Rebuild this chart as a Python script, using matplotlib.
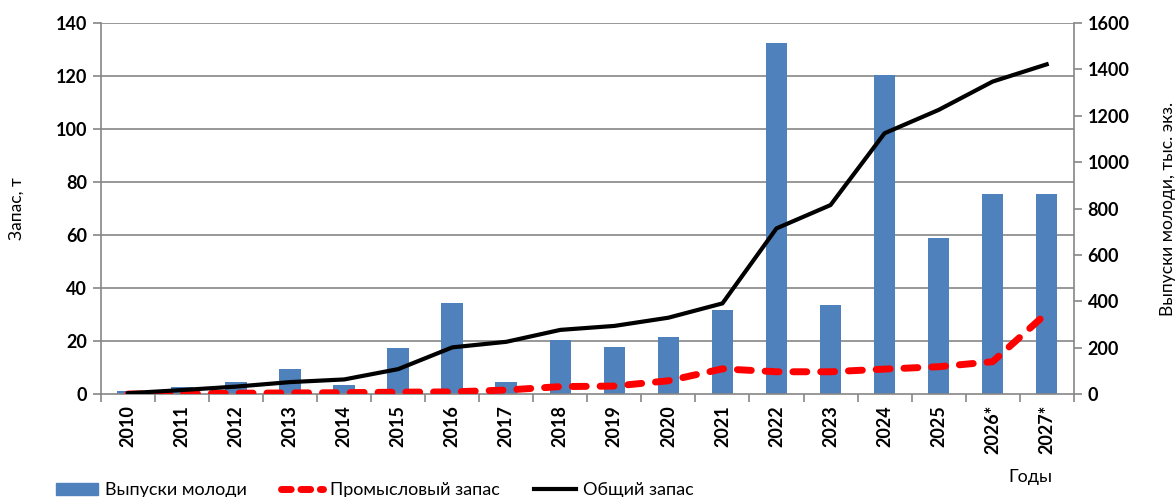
import numpy as np
import matplotlib
matplotlib.use("Agg")
import matplotlib.pyplot as plt
from matplotlib.lines import Line2D
from matplotlib.patches import Patch

plt.rcParams['font.family'] = ['Lato', 'DejaVu Sans']

# data
years = ['2010', '2011', '2012', '2013', '2014', '2015', '2016', '2017', '2018',
         '2019', '2020', '2021', '2022', '2023', '2024', '2025', '2026*', '2027*']
releases = [13, 32, 53, 109, 40, 198, 394, 53, 233, 203, 247, 362, 1515, 382,
            1377, 671, 862, 862]
commercial = [0.0, 0.1, 0.3, 0.4, 0.5, 0.7, 0.8, 1.5, 2.8, 3.0, 5.0, 9.5, 8.4,
              8.4, 9.4, 10.3, 12.2, 30.5]
total = [0.3, 1.5, 2.8, 4.5, 5.5, 9.4, 17.6, 19.7, 24.2, 25.7, 28.8, 34.2, 62.5,
         71.3, 98.4, 107.2, 117.9, 124.4]

left_ticks = np.arange(0, 141, 20)
right_ticks = np.arange(0, 1601, 200)

grey = '#868686'
bar_color = '#4F81BD'
red_dash = (0, (2.0, 2.0))

fig = plt.figure(figsize=(11.76, 4.97), dpi=100)
ax = fig.add_axes([0.0859, 0.2072, 0.8271, 0.7465])
x = np.arange(len(years))

# bars on the right-hand scale (drawn underneath)
for v in left_ticks[1:]:
    ax.axhline(v * 1600 / 140, color=grey, lw=1.2, zorder=0)
ax.bar(x, releases, width=0.4, color=bar_color, zorder=2)
ax.set_ylim(0, 1600)
ax.set_xlim(-0.5, len(years) - 0.5)

ax2 = ax.twinx()
ax2.plot(x, commercial, color='red', lw=5, ls=red_dash, dash_capstyle='round', zorder=3)
ax2.plot(x, total, color='black', lw=3, zorder=4)
ax2.set_ylim(0, 140)

# put the tonnes scale on the left, thousands on the right
ax.yaxis.tick_right()
ax.yaxis.set_label_position('right')
ax2.yaxis.tick_left()
ax2.yaxis.set_label_position('left')
ax.set_yticks(right_ticks)
ax2.set_yticks(left_ticks)

for a in (ax, ax2):
    for s in a.spines.values():
        s.set_visible(False)
    a.tick_params(axis='y', colors=grey, length=6, width=1.2, labelsize=13,
                  labelcolor='black', pad=4)
for lab in ax.get_yticklabels() + ax2.get_yticklabels():
    lab.set_fontweight('bold')

for side in ('left', 'right', 'bottom'):
    ax.spines[side].set_visible(True)
    ax.spines[side].set_color(grey)
    ax.spines[side].set_linewidth(1.2)
ax.spines['bottom'].set_zorder(5)

ax.set_xticks(x)
ax.set_xticklabels(years, rotation=90, fontsize=13, fontweight='bold')
ax.set_xticks(np.arange(-0.5, len(years)), minor=True)
ax.tick_params(axis='x', which='major', length=0, pad=8)
ax.tick_params(axis='x', which='minor', length=6, width=1.2, color=grey)

ax2.set_ylabel('Запас, т', fontsize=12.5, labelpad=22)
ax.set_ylabel('Выпуски молоди, тыс. экз.', fontsize=12.5, labelpad=22)
fig.text(0.876, 0.03, 'Годы', fontsize=13, ha='center')

handles = [Patch(color=bar_color),
           Line2D([0], [0], color='red', lw=5, ls=(0, (1.4, 1.4)), dash_capstyle='round'),
           Line2D([0], [0], color='black', lw=3)]
labels = ['Выпуски молоди', 'Промысловый запас', 'Общий запас']
fig.legend(handles, labels, loc='lower left', bbox_to_anchor=(0.034, -0.035), ncol=3,
           frameon=False, fontsize=13, handlelength=2.3, columnspacing=1.9,
           handletextpad=0.4)

fig.savefig('out.png', dpi=100)
